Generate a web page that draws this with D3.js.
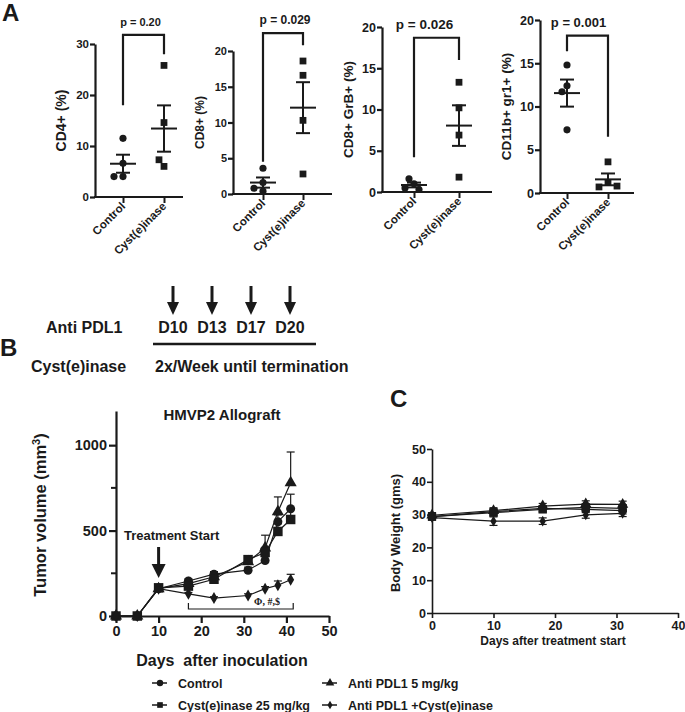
<!DOCTYPE html>
<html>
<head>
<meta charset="utf-8">
<title>Cyst(e)inase immune profiling and HMVP2 allograft</title>
<script src="https://cdn.jsdelivr.net/npm/d3@7"></script>
<style>
body { margin: 0; background: #fff; }
svg text { font-family: "Liberation Sans", Arial, Helvetica, sans-serif; font-weight: bold; fill: #1a1a1a; }
.axis path, .axis line { stroke: #1a1a1a; }
.axis text { font-weight: bold; fill: #1a1a1a; }
</style>
</head>
<body>
<svg width="685" height="712"></svg>
<script>
// ---- panel A data (% of cells, one value per mouse) ----
var groups = ["Control", "Cyst(e)inase"];
var cd4Ctrl = [11.5, 6.6, 4.0, 4.0];
var cd4Cyst = [25.8, 14.6, 6.0, 7.3];
var cd8Ctrl = [3.6, 1.6, 0.4, 0.8];
var cd8Cyst = [18.6, 16.6, 10.3, 2.8];
var grbCtrl = [1.0, 1.6, 0.5, 0.3];
var grbCyst = [13.3, 10.2, 6.9, 1.8];
var mdscCtrl = [14.8, 12.4, 11.7, 7.3];
var mdscCyst = [3.6, 1.2, 0.7, 0.8];
var yLabelsA = ["CD4+ (%)", "CD8+ (%)", "CD8+ GrB+ (%)", "CD11b+ gr1+ (%)"];
var pTexts = ["p = 0.20", "p = 0.029", "p = 0.026", "p = 0.001"];
// bracket: [top, left leg end, right leg end] in data units
var brackets = [[31.8, 18, 28], [22.5, 4.5, 20.8], [18.7, 4.2, 16], [18.2, 16.4, 6.5]];

// ---- panel B data: tumor volume (mm3) ----
var days = [0, 5, 10, 17, 23, 31, 35, 38, 41];
var tvControl = [0, 0, 160, 205, 245, 268, 325, 552, 628];
var tvControlErr = [0, 0, 8, 12, 15, 18, 25, 40, 85];
var tvCyst = [0, 0, 165, 175, 215, 330, 372, 495, 565];
var tvCystErr = [0, 0, 8, 12, 15, 20, 30, 45, 60];
var tvPdl1 = [0, 0, 160, 190, 230, 318, 398, 610, 780];
var tvPdl1Err = [0, 0, 8, 12, 15, 20, 75, 87, 180];
var tvCombo = [0, 0, 160, 130, 105, 120, 160, 180, 212];
var tvComboErr = [0, 0, 8, 8, 8, 10, 12, 25, 32];
var seriesNames = ["Control", "Anti PDL1 5 mg/kg", "Cyst(e)inase 25 mg/kg", "Anti PDL1 +Cyst(e)inase"];
var doseDays = ["D10", "D13", "D17", "D20"];

// ---- panel C data: body weight (g) ----
var bwDays = [0, 10, 18, 25, 31];
var bwControl = [29.4, 30.9, 31.9, 31.6, 31.2];
var bwCyst = [29.4, 30.6, 31.6, 32.2, 31.9];
var bwPdl1 = [29.8, 31.2, 32.6, 33.2, 33.1];
var bwCombo = [29.1, 28.0, 28.0, 29.9, 30.4];
var bwErr = [0.8, 0.9, 0.8, 1.0, 1.0];
var bwComboErr = [0.8, 1.3, 1.0, 1.0, 1.0];

var svg = d3.select("svg");
var ink = "#1a1a1a";

function panelLetter(t, x, y) {
    svg.append("text").attr("x", x).attr("y", y).style("font-size", "24px").text(t);
}

// ================= Panel A =================
panelLetter("A", 2, 21);

// each sub-plot was scaled differently in the original figure, hence the font sizes
var layoutA = [
    {ax: 95, y0: 197, yTop: 44, ymax: 30, step: 10, c1: 123, c2: 164, xEnd: 183, pdx: -3, tf: 11.5, lf: 14, pf: 11},
    {ax: 233, y0: 194, yTop: 51, ymax: 20, step: 5, c1: 263, c2: 303, xEnd: 332, pdx: 2, tf: 11, lf: 12, pf: 12},
    {ax: 382, y0: 192, yTop: 27, ymax: 20, step: 5, c1: 414, c2: 459, xEnd: 492, pdx: -12, tf: 12.5, lf: 13.5, pf: 13.5},
    {ax: 540, y0: 193, yTop: 20, ymax: 20, step: 5, c1: 567, c2: 608, xEnd: 634, pdx: -9, tf: 12.5, lf: 13.5, pf: 13}
];
var dataA = [[cd4Ctrl, cd4Cyst], [cd8Ctrl, cd8Cyst], [grbCtrl, grbCyst], [mdscCtrl, mdscCyst]];

function swarm(vals, cx, y) {
    var placed = [];
    var offs = [0, -5, 5, -9, 9];
    return vals.map(function(v) {
        var py = y(v), px = cx;
        for (var k = 0; k < offs.length; k++) {
            var cand = cx + offs[k];
            var clash = placed.some(function(p) { return Math.hypot(p[0] - cand, p[1] - py) < 7; });
            if (!clash) { px = cand; break; }
        }
        placed.push([px, py]);
        return [px, py];
    });
}

layoutA.forEach(function(L, i) {
    var y = d3.scaleLinear().domain([0, L.ymax]).range([L.y0, L.yTop]);
    var x = d3.scalePoint().domain(groups).range([L.c1, L.c2]);
    var g = svg.append("g");

    var yAxis = g.append("g").attr("class", "axis").attr("transform", "translate(" + L.ax + ",0)")
        .call(d3.axisLeft(y).tickValues(d3.range(0, L.ymax + 0.001, L.step)).tickSize(5).tickSizeOuter(0).tickPadding(1));
    yAxis.selectAll("path, line").style("stroke-width", 2.2);
    yAxis.selectAll("text").style("font-size", L.tf + "px")
        .style("font-family", "'Liberation Sans', Arial, sans-serif").style("font-weight", "bold");

    g.append("line").attr("x1", L.ax - 1).attr("x2", L.xEnd).attr("y1", L.y0).attr("y2", L.y0)
        .style("stroke", ink).style("stroke-width", 2.2);
    var xAxis = g.append("g").attr("class", "axis").attr("transform", "translate(0," + L.y0 + ")")
        .call(d3.axisBottom(x).tickSize(6).tickFormat(""));
    xAxis.select(".domain").remove();
    xAxis.selectAll("line").style("stroke-width", 2);

    groups.forEach(function(name) {
        g.append("text").attr("text-anchor", "end")
            .attr("transform", "translate(" + (x(name) + 3) + "," + (L.y0 + 10) + ") rotate(-45)")
            .style("font-size", "11.5px").text(name);
    });

    g.append("text").attr("text-anchor", "middle")
        .attr("transform", "translate(" + (L.ax - 29) + "," + ((L.y0 + L.yTop) / 2) + ") rotate(-90)")
        .style("font-size", L.lf + "px").text(yLabelsA[i]);

    dataA[i].forEach(function(vals, gi) {
        var cx = x(groups[gi]);
        var m = d3.mean(vals), se = d3.deviation(vals) / Math.sqrt(vals.length);
        var pts = swarm(vals, cx, y);
        g.selectAll(null).data(pts).enter().append("path")
            .attr("transform", function(d) { return "translate(" + d[0] + "," + d[1] + ")"; })
            .attr("d", d3.symbol().type(gi == 0 ? d3.symbolCircle : d3.symbolSquare).size(gi == 0 ? 40 : 46))
            .style("fill", ink);
        g.append("line").attr("x1", cx - 13).attr("x2", cx + 13).attr("y1", y(m)).attr("y2", y(m))
            .style("stroke", ink).style("stroke-width", 2);
        g.append("line").attr("x1", cx).attr("x2", cx).attr("y1", y(m - se)).attr("y2", y(m + se))
            .style("stroke", ink).style("stroke-width", 2);
        [m - se, m + se].forEach(function(v) {
            g.append("line").attr("x1", cx - 7).attr("x2", cx + 7).attr("y1", y(v)).attr("y2", y(v))
                .style("stroke", ink).style("stroke-width", 2);
        });
    });

    var b = brackets[i];
    g.append("path")
        .attr("d", "M" + L.c1 + "," + y(b[1]) + "V" + y(b[0]) + "H" + L.c2 + "V" + y(b[2]))
        .style("fill", "none").style("stroke", ink).style("stroke-width", 2.2);
    g.append("text").attr("text-anchor", "middle")
        .attr("x", (L.c1 + L.c2) / 2 + L.pdx).attr("y", y(b[0]) - 9)
        .style("font-size", L.pf + "px").text(pTexts[i]);
});

// ================= Panel B schematic =================
panelLetter("B", 0, 356);
svg.append("text").attr("x", 46).attr("y", 333).style("font-size", "16px").text("Anti PDL1");
svg.append("text").attr("x", 31).attr("y", 372).style("font-size", "16px").text("Cyst(e)inase");
svg.append("text").attr("x", 155).attr("y", 372).style("font-size", "16px").text("2x/Week until termination");
doseDays.forEach(function(d, i) {
    var cx = 173 + i * 39;
    svg.append("text").attr("x", cx).attr("y", 333).attr("text-anchor", "middle").style("font-size", "16px").text(d);
    svg.append("line").attr("x1", cx).attr("x2", cx).attr("y1", 286).attr("y2", 304)
        .style("stroke", ink).style("stroke-width", 3);
    svg.append("path").attr("d", "M" + (cx - 6) + ",302L" + (cx + 6) + ",302L" + cx + ",315Z").style("fill", ink);
});
svg.append("line").attr("x1", 153).attr("x2", 316).attr("y1", 344).attr("y2", 344)
    .style("stroke", ink).style("stroke-width", 2.5);

// ================= Panel B chart =================
var symbols = [d3.symbolCircle, d3.symbolTriangle, d3.symbolSquare, d3.symbolDiamond];
var tvSeries = [
    {v: tvControl, e: tvControlErr, s: 0},
    {v: tvPdl1, e: tvPdl1Err, s: 1},
    {v: tvCyst, e: tvCystErr, s: 2},
    {v: tvCombo, e: tvComboErr, s: 3}
];
var xB = d3.scaleLinear().domain([0, 50]).range([116, 329]);
var yB = d3.scaleLinear().domain([0, 1200]).range([616, 411]);
var gB = svg.append("g");

var yAxB = gB.append("g").attr("class", "axis").attr("transform", "translate(116,0)")
    .call(d3.axisLeft(yB).tickValues([0, 500, 1000]).tickFormat(d3.format("d")).tickSize(7).tickSizeOuter(0).tickPadding(2));
yAxB.selectAll("path, line").style("stroke-width", 2.2);
yAxB.selectAll("text").style("font-size", "14.5px").style("font-family", "'Liberation Sans', Arial, sans-serif");
gB.append("g").attr("transform", "translate(116,0)").selectAll("line").data([250, 750]).enter().append("line")
    .attr("x1", -5).attr("x2", 0).attr("y1", yB).attr("y2", yB).style("stroke", ink).style("stroke-width", 2);

var xAxB = gB.append("g").attr("class", "axis").attr("transform", "translate(0,616)")
    .call(d3.axisBottom(xB).tickValues(d3.range(0, 51, 10)).tickSize(7).tickSizeOuter(0).tickPadding(3));
xAxB.selectAll("path, line").style("stroke-width", 2.2);
xAxB.selectAll("text").style("font-size", "14.5px").style("font-family", "'Liberation Sans', Arial, sans-serif");

gB.append("text").attr("x", 222).attr("y", 420).attr("text-anchor", "middle").style("font-size", "15px").text("HMVP2 Allograft");
gB.append("text").attr("x", 222).attr("y", 666).attr("text-anchor", "middle").style("font-size", "16px")
    .style("white-space", "pre").text("Days  after inoculation");
var ylab = gB.append("text").attr("text-anchor", "middle").attr("transform", "translate(46,515) rotate(-90)")
    .style("font-size", "16.5px").text("Tumor volume (mm");
ylab.append("tspan").attr("dy", -6).style("font-size", "11px").text("3");
ylab.append("tspan").attr("dy", 6).text(")");

var lineB = d3.line().x(function(d) { return xB(d[0]); }).y(function(d) { return yB(d[1]); });
tvSeries.forEach(function(S) {
    var pts = days.map(function(d, i) { return [d, S.v[i], S.e[i]]; });
    gB.append("path").attr("d", lineB(pts)).style("fill", "none").style("stroke", ink).style("stroke-width", 1.2);
    pts.forEach(function(p) {
        if (p[2] > 0) {
            gB.append("line").attr("x1", xB(p[0])).attr("x2", xB(p[0])).attr("y1", yB(p[1])).attr("y2", yB(p[1] + p[2]))
                .style("stroke", ink).style("stroke-width", 1.2);
            gB.append("line").attr("x1", xB(p[0]) - 4).attr("x2", xB(p[0]) + 4).attr("y1", yB(p[1] + p[2])).attr("y2", yB(p[1] + p[2]))
                .style("stroke", ink).style("stroke-width", 1.2);
        }
    });
    gB.selectAll(null).data(pts).enter().append("path")
        .attr("transform", function(p) { return "translate(" + xB(p[0]) + "," + yB(p[1]) + ")"; })
        .attr("d", d3.symbol().type(symbols[S.s]).size([64, 64, 90, 42][S.s]))
        .style("fill", ink);
});

// treatment start arrow
gB.append("text").attr("x", 124).attr("y", 540).style("font-size", "13px").text("Treatment Start");
gB.append("line").attr("x1", xB(10)).attr("x2", xB(10)).attr("y1", 547).attr("y2", 566)
    .style("stroke", ink).style("stroke-width", 3);
gB.append("path").attr("d", "M" + (xB(10) - 7) + ",564L" + (xB(10) + 7) + ",564L" + xB(10) + ",578Z").style("fill", ink);

// significance bar
gB.append("path").attr("d", "M" + xB(17) + ",603V609H" + xB(41.6) + "V603")
    .style("fill", "none").style("stroke", ink).style("stroke-width", 1.2);
gB.append("text").attr("x", 267).attr("y", 605).attr("text-anchor", "middle")
    .style("font-family", "'Liberation Serif', 'DejaVu Serif', serif").style("font-size", "10px").text("\u03A6, #,$");

// legend: two columns, Control / Cyst(e)inase on the left
var legendCols = [152, 322];
seriesNames.forEach(function(name, i) {
    var lx = legendCols[i % 2], ly = 683 + Math.floor(i / 2) * 22;
    svg.append("line").attr("x1", lx).attr("x2", lx + 15).attr("y1", ly).attr("y2", ly)
        .style("stroke", ink).style("stroke-width", 1.5);
    svg.append("path").attr("transform", "translate(" + (lx + 8) + "," + ly + ")")
        .attr("d", d3.symbol().type(symbols[i]).size(i == 3 ? 22 : 32)).style("fill", ink);
    svg.append("text").attr("x", lx + 26).attr("y", ly + 4.5).style("font-size", "12.5px").text(name);
});

// ================= Panel C =================
panelLetter("C", 390, 407);
var xC = d3.scaleLinear().domain([0, 40]).range([432, 678]);
var yC = d3.scaleLinear().domain([0, 50]).range([613, 449]);
var gC = svg.append("g");
var yAxC = gC.append("g").attr("class", "axis").attr("transform", "translate(432,0)")
    .call(d3.axisLeft(yC).tickValues(d3.range(0, 51, 10)).tickSize(5).tickSizeOuter(0).tickPadding(1));
yAxC.selectAll("path, line").style("stroke-width", 1.6);
yAxC.selectAll("text").style("font-size", "12.5px").style("font-family", "'Liberation Sans', Arial, sans-serif");
var xAxC = gC.append("g").attr("class", "axis").attr("transform", "translate(0,613)")
    .call(d3.axisBottom(xC).tickValues(d3.range(0, 41, 10)).tickSize(5).tickSizeOuter(0).tickPadding(3));
xAxC.selectAll("path, line").style("stroke-width", 1.6);
xAxC.selectAll("text").style("font-size", "12.5px").style("font-family", "'Liberation Sans', Arial, sans-serif");
gC.append("text").attr("text-anchor", "middle").attr("transform", "translate(400,533) rotate(-90)")
    .style("font-size", "13px").text("Body Weight (gms)");
gC.append("text").attr("x", 553).attr("y", 645).attr("text-anchor", "middle").style("font-size", "12px")
    .text("Days after treatment start");

var bwSeries = [
    {v: bwControl, e: bwErr, s: 0},
    {v: bwPdl1, e: bwErr, s: 1},
    {v: bwCyst, e: bwErr, s: 2},
    {v: bwCombo, e: bwComboErr, s: 3}
];
var lineC = d3.line().x(function(d) { return xC(d[0]); }).y(function(d) { return yC(d[1]); });
bwSeries.forEach(function(S) {
    var pts = bwDays.map(function(d, i) { return [d, S.v[i], S.e[i]]; });
    gC.append("path").attr("d", lineC(pts)).style("fill", "none").style("stroke", ink).style("stroke-width", 1.2);
    pts.forEach(function(p) {
        var cx = xC(p[0]);
        gC.append("line").attr("x1", cx).attr("x2", cx).attr("y1", yC(p[1] - p[2])).attr("y2", yC(p[1] + p[2]))
            .style("stroke", ink).style("stroke-width", 1.2);
        [p[1] - p[2], p[1] + p[2]].forEach(function(v) {
            gC.append("line").attr("x1", cx - 4).attr("x2", cx + 4).attr("y1", yC(v)).attr("y2", yC(v))
                .style("stroke", ink).style("stroke-width", 1.2);
        });
    });
    gC.selectAll(null).data(pts).enter().append("path")
        .attr("transform", function(p) { return "translate(" + xC(p[0]) + "," + yC(p[1]) + ")"; })
        .attr("d", d3.symbol().type(symbols[S.s]).size([55, 55, 70, 34][S.s]))
        .style("fill", ink);
});
</script>
</body>
</html>
